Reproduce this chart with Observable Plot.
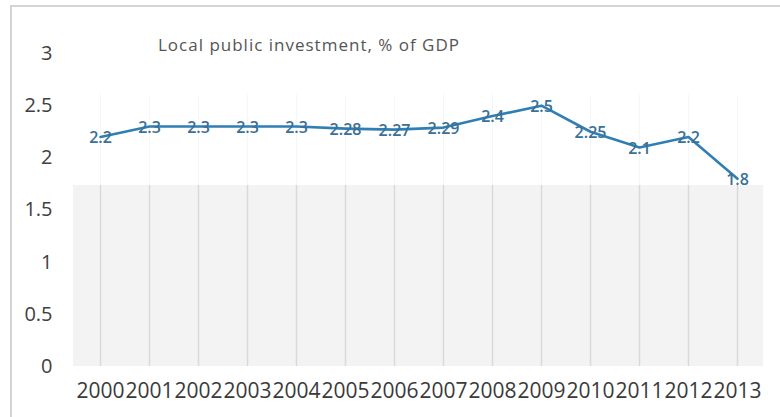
<!DOCTYPE html>
<html>
<head>
<meta charset="utf-8">
<script src="https://cdn.jsdelivr.net/npm/d3@7"></script>
<script src="https://cdn.jsdelivr.net/npm/@observablehq/plot@0.6"></script>
<style>
  html, body { margin: 0; padding: 0; background: #fff; }
  #wrap { position: relative; width: 780px; height: 417px; overflow: hidden; }
  #border { position: absolute; left: 10px; top: 5px; width: 790px; height: 430px;
            border-left: 2px solid #d4d4d4; border-top: 2px solid #d4d4d4; box-sizing: border-box; }
  #title { position: absolute; left: 158px; top: 33px; font: 17px "Open Sans", sans-serif;
           letter-spacing: 1px; color: #555; white-space: nowrap; }
  #chart { position: absolute; left: 0; top: 0; }
</style>
</head>
<body>
<div id="wrap">
  <div id="chart"></div>
  <div id="border"></div>
  <div id="title">Local public investment, % of GDP</div>
</div>
<script>
const years = ["2000","2001","2002","2003","2004","2005","2006","2007","2008","2009","2010","2011","2012","2013"];
const values = [2.2, 2.3, 2.3, 2.3, 2.3, 2.28, 2.27, 2.29, 2.4, 2.5, 2.25, 2.1, 2.2, 1.8];
const labels = ["2.2","2.3","2.3","2.3","2.3","2.28","2.27","2.29","2.4","2.5","2.25","2.1","2.2","1.8"];
const yTicks = [0, 0.5, 1, 1.5, 2, 2.5, 3];
const shadedTop = 1.735; // upper edge of the grey plot background in the source image

const data = years.map((y, i) => ({year: y, value: values[i], label: labels[i]}));

const chart = Plot.plot({
  width: 780,
  height: 417,
  marginLeft: 73,
  marginRight: 17,
  marginTop: 53,
  marginBottom: 51,
  style: {fontFamily: "'Open Sans', sans-serif", background: "transparent"},
  x: {type: "point", domain: years, padding: 0.5, label: null},
  y: {domain: [0, 3], ticks: yTicks, label: null},
  marks: [
    Plot.rect([0], {y1: 0, y2: shadedTop, fill: "#f3f3f3"}),
    Plot.ruleX(years, {x: d => d, y1: 0, y2: shadedTop, stroke: "#d9d9d9", strokeWidth: 1.5}),
    Plot.ruleX(years, {x: d => d, y1: shadedTop, y2: 2.6, stroke: "#dde8f0", strokeWidth: 1, strokeOpacity: 0.35}),
    Plot.line(data, {x: "year", y: "value", stroke: "#2f7fb5", strokeWidth: 2.6}),
    Plot.text(data, {x: "year", y: "value", text: "label", fill: "#3a6f96", fontSize: 16, fontWeight: 600, dy: 1}),
    Plot.axisX({tickSize: 0, tickPadding: 17, fontSize: 21, fill: "#3a3a3a"}),
    Plot.axisY({ticks: yTicks, tickSize: 0, tickPadding: 21, fontSize: 20, fill: "#404040", tickFormat: d => String(d)})
  ]
});
document.getElementById("chart").appendChild(chart);
</script>
</body>
</html>
